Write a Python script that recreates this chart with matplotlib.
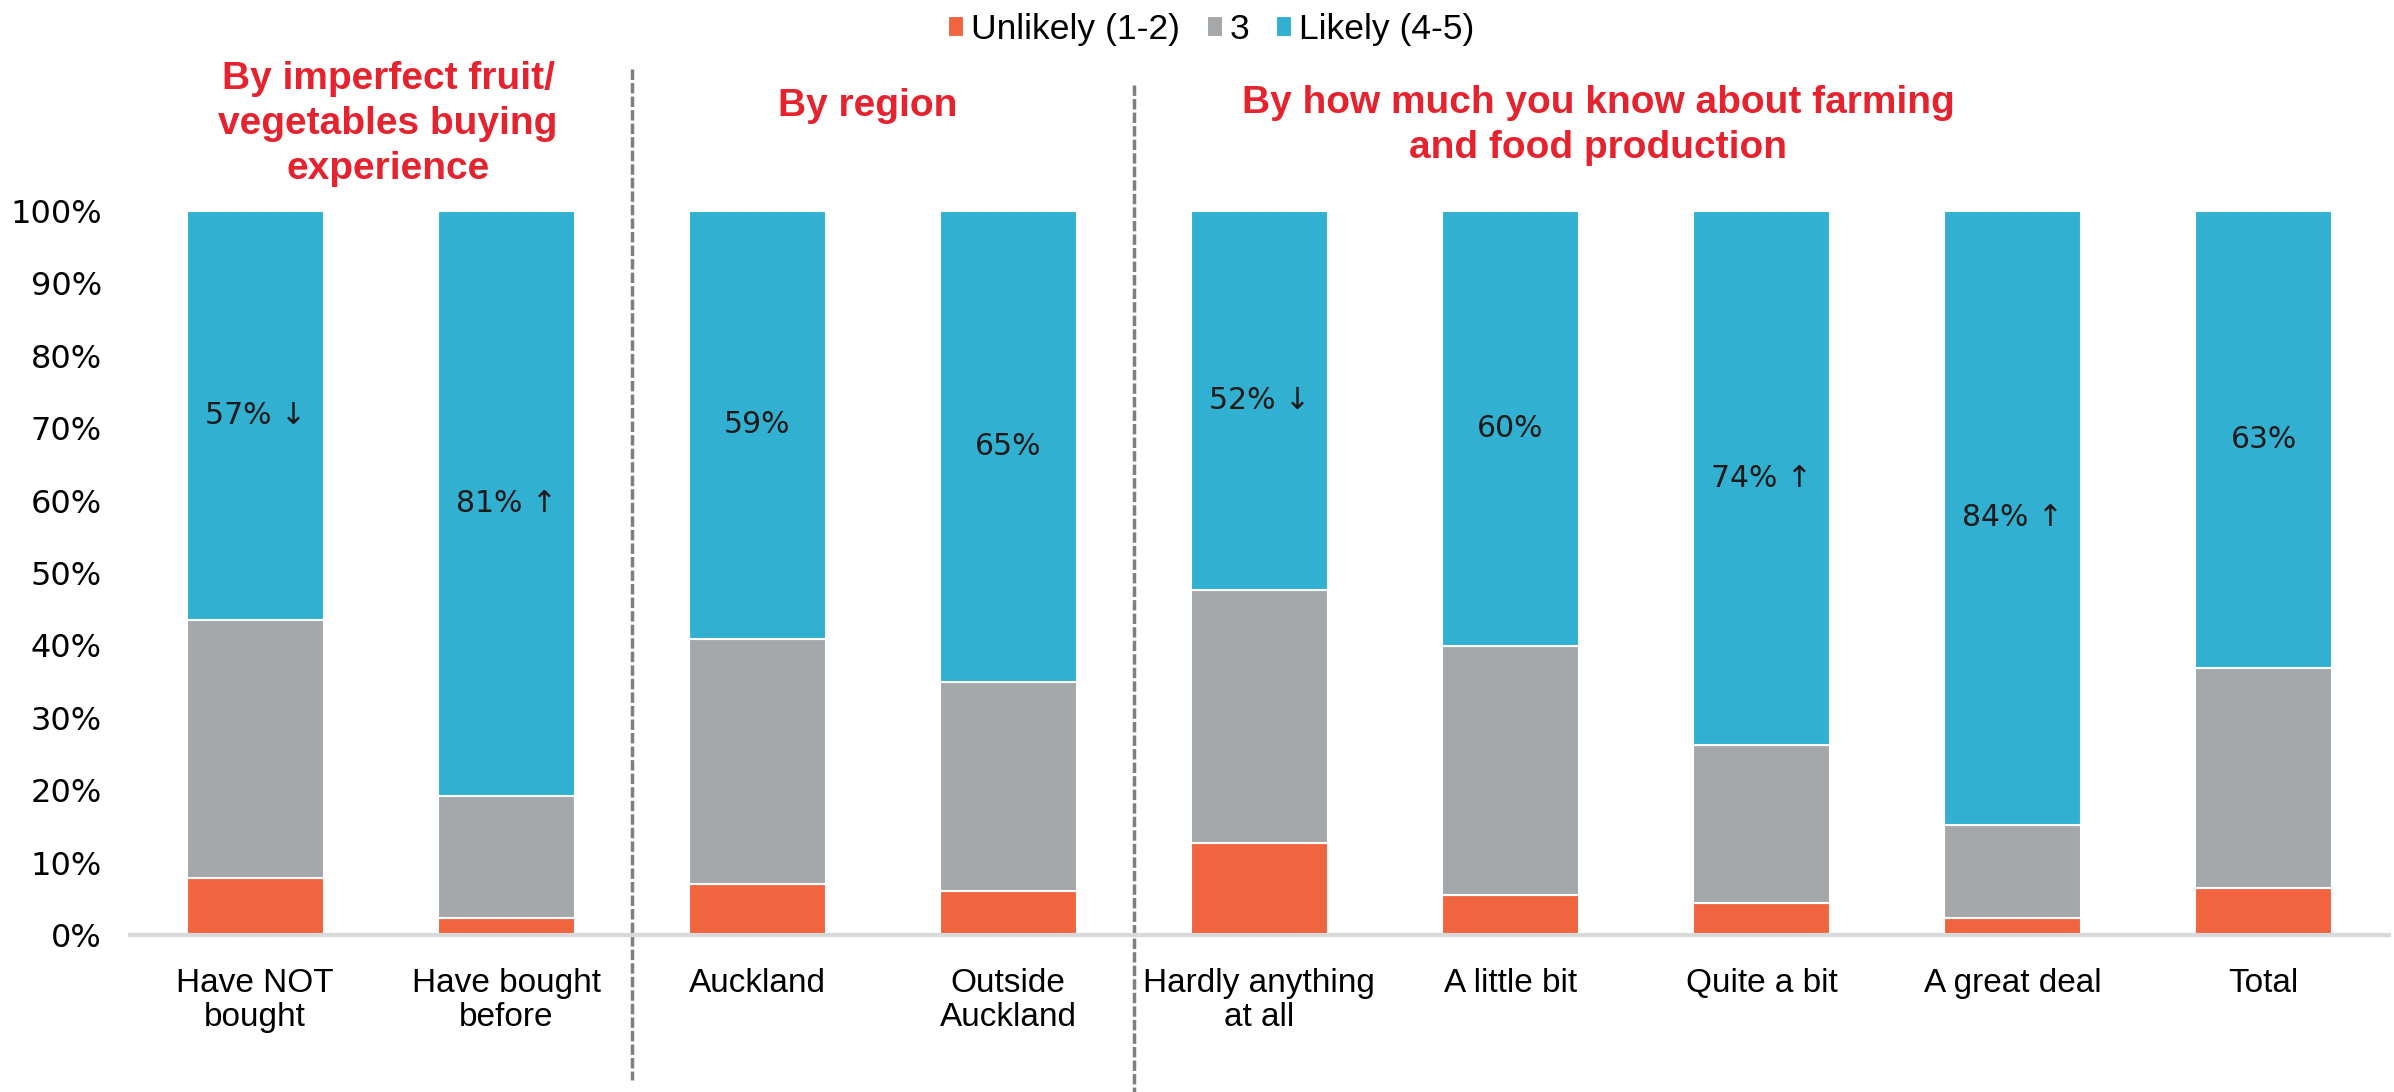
import matplotlib.pyplot as plt
import numpy as np

categories = ['Have NOT\nbought', 'Have bought\nbefore', 'Auckland', 'Outside\nAuckland',
              'Hardly anything\nat all', 'A little bit', 'Quite a bit', 'A great deal', 'Total']
unlikely = [7.8, 2.3, 7.0, 6.1, 12.7, 5.5, 4.4, 2.3, 6.5]
neutral = [35.7, 16.9, 33.9, 28.9, 35.0, 34.4, 21.8, 12.9, 30.4]
likely = [56.5, 80.8, 59.1, 65.0, 52.3, 60.1, 73.8, 84.8, 63.1]
likely_labels = ['57% \u2193', '81% \u2191', '59%', '65%', '52% \u2193', '60%', '74% \u2191', '84% \u2191', '63%']
group_titles = ['By imperfect fruit/\nvegetables buying\nexperience', 'By region',
                'By how much you know about farming\nand food production']
series_names = ['Unlikely (1-2)', '3', 'Likely (4-5)']

c_unl = '#F06540'
c_neu = '#A4A8AB'
c_lik = '#31B0D1'
c_red = '#E5232E'

plt.rcParams['font.family'] = ['Liberation Sans', 'DejaVu Sans']

fig = plt.figure(figsize=(23.94, 10.92), dpi=100)
ax = fig.add_axes([0.0541, 0.1438, 0.998 - 0.0541, 0.8068 - 0.1438])

x = np.arange(len(categories))
u = np.array(unlikely) / 100
n = np.array(neutral) / 100
l = np.array(likely) / 100
w = 0.546
b1 = ax.bar(x, u, w, color=c_unl, edgecolor='white', linewidth=1.5, label=series_names[0])
b2 = ax.bar(x, n, w, bottom=u, color=c_neu, edgecolor='white', linewidth=1.5, label=series_names[1])
b3 = ax.bar(x, l, w, bottom=u + n, color=c_lik, edgecolor='white', linewidth=1.5, label=series_names[2])

for i in range(len(categories)):
    ax.text(x[i], u[i] + n[i] + l[i] / 2, likely_labels[i], ha='center', va='center',
            fontsize=21.5, family='DejaVu Sans', color='#1a1a1a')

ax.set_xlim(-0.5, len(categories) - 0.5)
ax.set_ylim(0, 1)
ax.set_yticks(np.arange(0, 1.01, 0.1))
ax.set_yticklabels([f'{int(round(v * 100))}%' for v in np.arange(0, 1.01, 0.1)],
                   family='DejaVu Sans', fontsize=23)
ax.set_xticks(x)
ax.set_xticklabels(categories, fontsize=24, linespacing=1.1)
ax.tick_params(axis='y', length=0, pad=20)
ax.tick_params(axis='x', length=0, pad=24)
for s in ['top', 'right', 'left']:
    ax.spines[s].set_visible(False)
ax.spines['bottom'].set_color('#D9D9D9')
ax.spines['bottom'].set_linewidth(3)

# dashed group separators, running outside the axes
for xd, y0, y1 in [(1.5, 1.196, -0.2), (3.5, 1.174, -0.22)]:
    ax.plot([xd, xd], [y0, y1], color='#7F7F7F', linestyle=(0, (3, 0.9)), linewidth=2.5,
            clip_on=False)

title_pos = [(0.53, (935 - 124) / 724), (2.44, (935 - 106) / 724), (5.35, (935 - 126) / 724)]
for (tx, ty), t in zip(title_pos, group_titles):
    ax.text(tx, ty, t, ha='center', va='center', color=c_red, fontsize=28,
            fontweight='bold', linespacing=1.32)

fig.legend(handles=[b1, b2, b3], labels=series_names, loc='center', bbox_to_anchor=(0.506, 0.973),
           ncol=3, frameon=False, fontsize=25.5, handlelength=0.45, handleheight=0.55,
           handletextpad=0.2, columnspacing=0.75)

fig.savefig('out.png', dpi=100)
